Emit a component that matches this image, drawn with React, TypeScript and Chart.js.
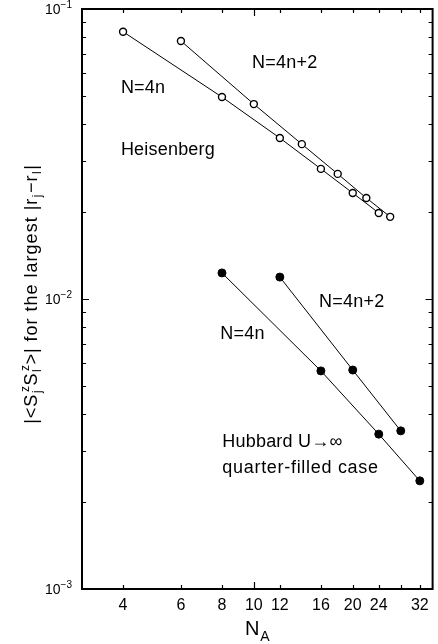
import React, { useEffect, useRef } from "react";
import { Chart, registerables } from "chart.js";

Chart.register(...registerables);

// Heisenberg, open circles
const heisN4nX = [4, 8, 12, 16, 20, 24];
const heisN4nY = [0.0835, 0.0497, 0.0359, 0.0281, 0.0232, 0.0198];
const heisN4n2X = [6, 10, 14, 18, 22, 26];
const heisN4n2Y = [0.0776, 0.047, 0.0342, 0.027, 0.0223, 0.0192];
// Hubbard U -> infinity, filled circles
const hubN4nX = [8, 16, 24, 32];
const hubN4nY = [0.0123, 0.00565, 0.00342, 0.00236];
const hubN4n2X = [12, 20, 28];
const hubN4n2Y = [0.0119, 0.00569, 0.00351];

// axes
const xTickLabels = [4, 6, 8, 10, 12, 16, 20, 24, 32];
const xMinorTicks = [4, 6, 8, 12, 16, 20, 24, 28, 32];
const xMajorTicks = [10];
const yDecadeExps = [-1, -2, -3];

// text labels placed in data coordinates (left, baseline)
const labelTexts = ["N=4n", "Heisenberg", "N=4n+2", "N=4n+2", "N=4n", "Hubbard U\u2192\u221e", "quarter-filled case"];
const labelX = [3.94, 3.94, 9.88, 15.8, 7.91, 8.02, 8.02];
const labelY = [0.0513, 0.0314, 0.0626, 0.00937, 0.00728, 0.00309, 0.00251];

const FONT = "'Liberation Sans', Arial, Helvetica, sans-serif";

const toPts = (xs: number[], ys: number[]) => xs.map((x, i) => ({ x, y: ys[i] }));

const drawPlugin = {
  id: "customDraw",
  afterDraw(chart: any) {
    const ctx = chart.ctx as any;
    const { left, right, top, bottom } = chart.chartArea;
    const xs = chart.scales.x;
    const ys = chart.scales.y;
    ctx.save();
    ctx.strokeStyle = "#000";
    ctx.fillStyle = "#000";

    // frame
    ctx.lineWidth = 2;
    ctx.strokeRect(left, top, right - left, bottom - top);

    // y ticks (inward, both sides)
    ctx.lineWidth = 1.2;
    for (let e = -3; e <= -2; e++) {
      for (let m = 1; m <= 9; m++) {
        const v = m * Math.pow(10, e);
        const py = Math.round(ys.getPixelForValue(v)) + 0.5;
        const len = m === 1 ? 7 : 4;
        ctx.beginPath();
        ctx.moveTo(left, py);
        ctx.lineTo(left + len, py);
        ctx.moveTo(right, py);
        ctx.lineTo(right - len, py);
        ctx.stroke();
      }
    }
    // x ticks (inward, bottom and top)
    const drawX = (v: number, len: number) => {
      const px = Math.round(xs.getPixelForValue(v)) + 0.5;
      ctx.beginPath();
      ctx.moveTo(px, bottom);
      ctx.lineTo(px, bottom - len);
      ctx.moveTo(px, top);
      ctx.lineTo(px, top + len);
      ctx.stroke();
    };
    xMinorTicks.forEach((v) => drawX(v, 4));
    xMajorTicks.forEach((v) => drawX(v, 7));

    // x tick labels
    ctx.font = `16px ${FONT}`;
    ctx.textAlign = "center";
    ctx.textBaseline = "middle";
    xTickLabels.forEach((v) => {
      ctx.fillText(String(v), xs.getPixelForValue(v), 606);
    });

    // y tick labels 10^e
    yDecadeExps.forEach((e) => {
      const py = ys.getPixelForValue(Math.pow(10, e));
      ctx.font = `10px ${FONT}`;
      const sup = "\u2212" + String(-e);
      const supW = ctx.measureText(sup).width;
      ctx.textAlign = "left";
      ctx.textBaseline = "middle";
      const supX = left - 10 - supW;
      ctx.fillText(sup, supX, py - 4);
      ctx.font = `14px ${FONT}`;
      ctx.textAlign = "right";
      ctx.fillText("10", supX, py + 1);
    });

    // x axis title N_A
    ctx.textBaseline = "alphabetic";
    ctx.textAlign = "left";
    ctx.font = `20px ${FONT}`;
    const nW = ctx.measureText("N").width;
    ctx.font = `14px ${FONT}`;
    const aW = ctx.measureText("A").width;
    const cx = (left + right) / 2;
    const startX = cx - (nW + 1 + aW) / 2;
    ctx.font = `20px ${FONT}`;
    ctx.fillText("N", startX, 635);
    ctx.font = `14px ${FONT}`;
    ctx.fillText("A", startX + nW + 1, 641);

    // y axis title (rotated), with sub/superscripts
    const main = `18px ${FONT}`;
    const small = `12px ${FONT}`;
    type Piece = { t: string; kind: "n" | "subsup" | "sub"; sub?: string; sup?: string };
    const pieces: Piece[] = [
      { t: "|<S", kind: "n" },
      { t: "", kind: "subsup", sub: "j", sup: "z" },
      { t: "S", kind: "n" },
      { t: "", kind: "subsup", sub: "l", sup: "z" },
      { t: ">| for the largest |r", kind: "n" },
      { t: "", kind: "sub", sub: "j" },
      { t: "\u2212r", kind: "n" },
      { t: "", kind: "sub", sub: "l" },
      { t: "|", kind: "n" },
    ];
    ctx.letterSpacing = "1px";
    const widthOf = (p: Piece) => {
      if (p.kind === "n") {
        ctx.font = main;
        return ctx.measureText(p.t).width;
      }
      ctx.font = small;
      const a = p.sub ? ctx.measureText(p.sub).width : 0;
      const b = p.sup ? ctx.measureText(p.sup).width : 0;
      return Math.max(a, b) + 1;
    };
    const total = pieces.reduce((s, p) => s + widthOf(p), 0);
    ctx.save();
    ctx.translate(37, 294);
    ctx.rotate(-Math.PI / 2);
    let px = -total / 2;
    pieces.forEach((p) => {
      const w = widthOf(p);
      if (p.kind === "n") {
        ctx.font = main;
        ctx.fillText(p.t, px, 0);
      } else {
        ctx.font = small;
        if (p.sub) ctx.fillText(p.sub, px + 0.5, 4);
        if (p.sup) ctx.fillText(p.sup, px + 1.5, -8);
      }
      px += w;
    });
    ctx.restore();
    ctx.letterSpacing = "0px";

    // annotations
    ctx.font = main;
    ctx.textAlign = "left";
    ctx.textBaseline = "alphabetic";
    labelTexts.forEach((t, i) => {
      ctx.letterSpacing = t.length > 12 ? "0.7px" : "0.2px";
      ctx.fillText(t, xs.getPixelForValue(labelX[i]), ys.getPixelForValue(labelY[i]));
    });
    ctx.letterSpacing = "0px";

    ctx.restore();
  },
};

export default function App() {
  const ref = useRef<HTMLCanvasElement | null>(null);
  useEffect(() => {
    if (!ref.current) return;
    const open = {
      borderColor: "#000",
      backgroundColor: "#fff",
      pointBackgroundColor: "#fff",
      pointBorderColor: "#000",
      pointRadius: 3.5,
      pointBorderWidth: 1.4,
      borderWidth: 1,
      showLine: true,
    };
    const filled = {
      borderColor: "#000",
      backgroundColor: "#000",
      pointBackgroundColor: "#000",
      pointBorderColor: "#000",
      pointRadius: 4,
      pointBorderWidth: 1,
      borderWidth: 1,
      showLine: true,
    };
    const chart = new Chart(ref.current, {
      type: "scatter",
      data: {
        datasets: [
          { label: "Heisenberg N=4n", data: toPts(heisN4nX, heisN4nY), ...open },
          { label: "Heisenberg N=4n+2", data: toPts(heisN4n2X, heisN4n2Y), ...open },
          { label: "Hubbard N=4n", data: toPts(hubN4nX, hubN4nY), ...filled },
          { label: "Hubbard N=4n+2", data: toPts(hubN4n2X, hubN4n2Y), ...filled },
        ],
      },
      options: {
        animation: false,
        responsive: false,
        devicePixelRatio: 1,
        layout: { padding: { top: 9, right: 3, left: 0, bottom: 0 } },
        plugins: { legend: { display: false }, tooltip: { enabled: false } },
        scales: {
          x: {
            type: "logarithmic",
            min: 3,
            max: 35,
            grid: { display: false },
            border: { display: false },
            ticks: { display: false },
            afterFit: (s: any) => {
              s.height = 55;
            },
          },
          y: {
            type: "logarithmic",
            min: 0.001,
            max: 0.1,
            grid: { display: false },
            border: { display: false },
            ticks: { display: false },
            afterFit: (s: any) => {
              s.width = 82;
            },
          },
        },
      } as any,
      plugins: [drawPlugin],
    });
    return () => chart.destroy();
  }, []);
  return (
    <div style={{ position: "absolute", left: 0, top: 0, width: 438, height: 644, background: "#fff" }}>
      <canvas ref={ref} width={438} height={644} style={{ display: "block" }} />
    </div>
  );
}
